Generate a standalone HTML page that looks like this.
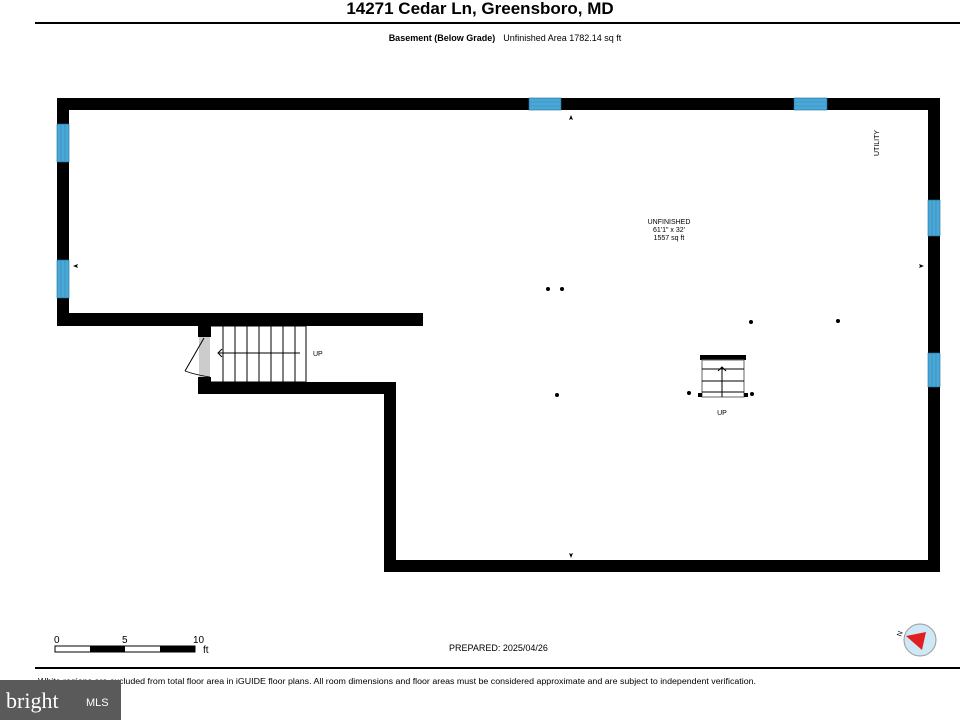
<!DOCTYPE html>
<html><head><meta charset="utf-8"><style>
body{margin:0;width:960px;height:720px;background:#fff;overflow:hidden;font-family:"Liberation Sans",sans-serif}
</style></head><body>
<svg width="960" height="720" viewBox="0 0 960 720" xmlns="http://www.w3.org/2000/svg" font-family="Liberation Sans, sans-serif">
<text x="480" y="14" text-anchor="middle" font-size="17" font-weight="bold">14271 Cedar Ln, Greensboro, MD</text>
<rect x="35" y="22" width="925" height="2" fill="#000"/>
<text x="505" y="41" text-anchor="middle" font-size="9"><tspan font-weight="bold">Basement (Below Grade)</tspan><tspan dx="8">Unfinished Area 1782.14 sq ft</tspan></text>
<g fill="#000">
<rect x="57" y="98" width="883" height="12"/>
<rect x="928" y="98" width="12" height="474"/>
<rect x="384" y="560" width="556" height="12"/>
<rect x="384" y="382" width="12" height="190"/>
<rect x="198" y="382" width="198" height="12"/>
<rect x="57" y="98" width="12" height="228"/>
<rect x="57" y="313" width="366" height="13"/>
<rect x="198" y="313" width="13" height="24"/>
<rect x="198" y="377" width="13" height="17"/>
</g>
<g fill="#4aa8d8" stroke="#1c6e9a" stroke-width="0.6">
<rect x="529" y="98" width="32" height="12"/><rect x="794" y="98" width="33" height="12"/>
<rect x="57" y="124" width="12" height="38"/><rect x="57" y="260" width="12" height="38"/>
<rect x="928" y="200" width="12" height="36"/><rect x="928" y="353" width="12" height="34"/>
</g>
<g stroke="#3a86b0" stroke-width="0.6">
<line x1="529" y1="102" x2="561" y2="102"/><line x1="529" y1="106" x2="561" y2="106"/>
<line x1="794" y1="102" x2="827" y2="102"/><line x1="794" y1="106" x2="827" y2="106"/>
<line x1="61" y1="124" x2="61" y2="162"/><line x1="65" y1="124" x2="65" y2="162"/>
<line x1="61" y1="260" x2="61" y2="298"/><line x1="65" y1="260" x2="65" y2="298"/>
<line x1="932" y1="200" x2="932" y2="236"/><line x1="936" y1="200" x2="936" y2="236"/>
<line x1="932" y1="353" x2="932" y2="387"/><line x1="936" y1="353" x2="936" y2="387"/>
</g>
<rect x="199" y="337" width="11" height="40" fill="#ccc"/>
<line x1="204" y1="338" x2="185" y2="371" stroke="#000" stroke-width="1"/>
<path d="M185 371 Q196 375 210 377" fill="none" stroke="#000" stroke-width="0.8"/>
<g stroke="#000" stroke-width="1">
<line x1="211" y1="326" x2="306" y2="326"/><line x1="211" y1="382" x2="306" y2="382"/>
<line x1="223" y1="326" x2="223" y2="382"/><line x1="235" y1="326" x2="235" y2="382"/>
<line x1="247" y1="326" x2="247" y2="382"/><line x1="259" y1="326" x2="259" y2="382"/>
<line x1="271" y1="326" x2="271" y2="382"/><line x1="283" y1="326" x2="283" y2="382"/>
<line x1="295" y1="326" x2="295" y2="382"/><line x1="306" y1="326" x2="306" y2="382"/>
<line x1="219" y1="353" x2="300" y2="353"/>
<polyline points="222,349 218,353 222,357" fill="none"/>
</g>
<text x="313" y="356" font-size="7">UP</text>
<rect x="700" y="355" width="46" height="5" fill="#000"/>
<g stroke="#000" stroke-width="1" fill="none">
<rect x="702" y="360" width="42" height="37" stroke="#666"/>
<line x1="702" y1="369" x2="744" y2="369"/><line x1="702" y1="381" x2="744" y2="381"/><line x1="702" y1="392" x2="744" y2="392"/>
<line x1="722" y1="367" x2="722" y2="397"/><polyline points="718,371 722,367 726,371"/>
</g>
<rect x="698" y="393" width="4" height="4" fill="#000"/><rect x="744" y="393" width="4" height="4" fill="#000"/>
<text x="722" y="415" text-anchor="middle" font-size="7">UP</text>
<g fill="#000">
<circle cx="548" cy="289" r="2"/><circle cx="562" cy="289" r="2"/>
<circle cx="751" cy="322" r="2"/><circle cx="838" cy="321" r="2"/>
<circle cx="557" cy="395" r="2"/><circle cx="689" cy="393" r="2"/><circle cx="752" cy="394" r="2"/>
<path d="M571 115 l-2 5 l2 -1 l2 1z"/><path d="M571 558 l-2 -5 l2 1 l2 -1z"/>
<path d="M73 266 l5 -2 l-1 2 l1 2z"/><path d="M924 266 l-5 -2 l1 2 l-1 2z"/>
</g>
<text x="669" y="224" text-anchor="middle" font-size="7">UNFINISHED</text>
<text x="669" y="232" text-anchor="middle" font-size="7">61'1" x 32'</text>
<text x="669" y="240" text-anchor="middle" font-size="7">1557 sq ft</text>
<text transform="translate(879,156) rotate(-90)" font-size="7">UTILITY</text>
<g font-size="10"><text x="54" y="643">0</text><text x="122" y="643">5</text><text x="193" y="643">10</text><text x="203" y="653">ft</text></g>
<rect x="55" y="646" width="140" height="6" fill="#fff" stroke="#000" stroke-width="1"/>
<rect x="90" y="646" width="35" height="6" fill="#000"/><rect x="160" y="646" width="35" height="6" fill="#000"/>
<text x="449" y="651" font-size="9">PREPARED: 2025/04/26</text>
<circle cx="920" cy="640" r="16" fill="#cfe8f5" stroke="#999"/>
<path d="M906 636 L926 632 L922 650 Z" fill="#e02020"/>
<text x="897" y="637" font-size="7" transform="rotate(-70 899 634)">N</text>
<rect x="35" y="667" width="925" height="2" fill="#000"/>
<text x="38" y="684" font-size="8" textLength="718" lengthAdjust="spacingAndGlyphs">White regions are excluded from total floor area in iGUIDE floor plans. All room dimensions and floor areas must be considered approximate and are subject to independent verification.</text>
<rect x="0" y="680" width="121" height="40" fill="#5a5a5a"/>
<text x="6" y="708" font-size="22" fill="#fff" font-family="Liberation Serif, serif">bright</text>
<text x="86" y="706" font-size="11" fill="#fff">MLS</text>
</svg>
</body></html>
